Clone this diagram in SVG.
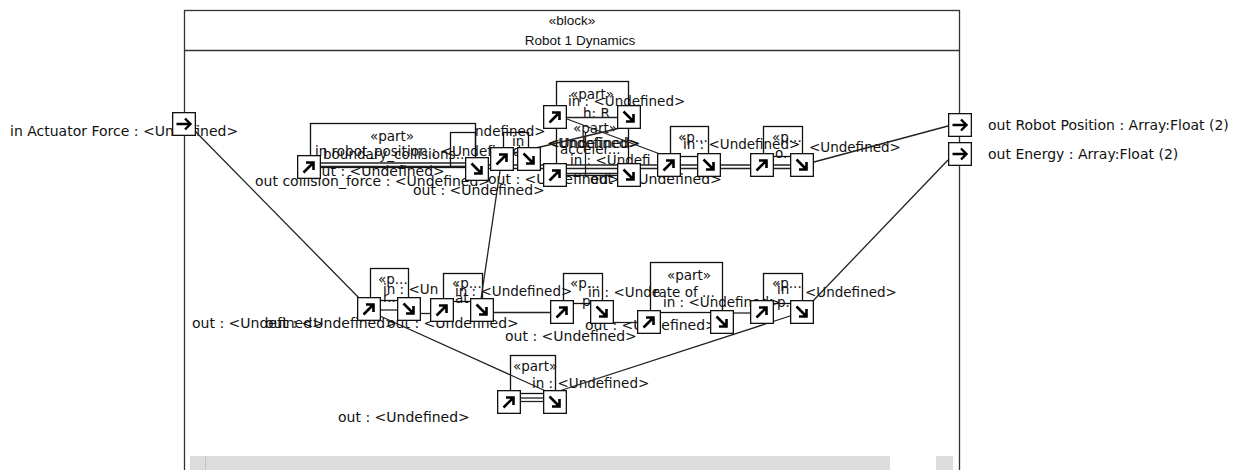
<svg xmlns="http://www.w3.org/2000/svg" xmlns:xlink="http://www.w3.org/1999/xlink" width="1244" height="470" viewBox="0 0 1244 470">
<style>
.lbl{font-family:"DejaVu Sans",sans-serif;font-size:14px;fill:#111}
.ext{font-family:"DejaVu Sans",sans-serif;font-size:14px;fill:#111}
.nm{font-family:"DejaVu Sans",sans-serif;font-size:13.5px;fill:#111}
.hdr{font-family:"Liberation Sans",sans-serif;font-size:13.5px;fill:#111;text-anchor:middle}
.part{fill:none;stroke:#111;stroke-width:1.3}
.frame{fill:#fff;stroke:#333;stroke-width:1.3}
.conn line{stroke:#222;stroke-width:1.3}
</style>
<defs>
<symbol id="ne" viewBox="0 0 24 24"><rect x="0.65" y="0.65" width="22.7" height="22.7" fill="#fff" stroke="#111" stroke-width="1.3"/><path d="M6.5 17.5L16.5 7.5M9 7.5H16.5V15" fill="none" stroke="#000" stroke-width="2.6"/></symbol>
<symbol id="se" viewBox="0 0 24 24"><rect x="0.65" y="0.65" width="22.7" height="22.7" fill="#fff" stroke="#111" stroke-width="1.3"/><path d="M6.5 6.5L16.5 16.5M16.5 9V16.5H9" fill="none" stroke="#000" stroke-width="2.6"/></symbol>
<symbol id="ea" viewBox="0 0 24 24"><rect x="0.65" y="0.65" width="22.7" height="22.7" fill="#fff" stroke="#111" stroke-width="1.3"/><path d="M4.5 12H18.5M13 6.5L18.5 12L13 17.5" fill="none" stroke="#000" stroke-width="2.4"/></symbol>
</defs>
<rect width="1244" height="470" fill="#fff"/>
<g id="block-robot1-dynamics">
<rect class="frame" x="184.5" y="10.5" width="775" height="470"/>
<line x1="184.5" y1="50.5" x2="959.5" y2="50.5" stroke="#333" stroke-width="1.3"/>
<text class="hdr" x="572" y="25">«block»</text>
<text class="hdr" x="580" y="45">Robot 1 Dynamics</text>
<rect x="190" y="456" width="700" height="14" fill="#dcdcdc"/>
<line x1="205.5" y1="456" x2="205.5" y2="470" stroke="#c4c4c4" stroke-width="1"/>
<rect x="936" y="456" width="17" height="14" fill="#dcdcdc"/>
</g>
<g id="ext-labels">
<text class="ext" x="10" y="136">in Actuator Force : &lt;Undefined&gt;</text>
<text class="ext" x="988" y="130">out Robot Position : Array:Float (2)</text>
<text class="ext" x="988" y="159">out Energy : Array:Float (2)</text>
</g>
<g id="part-boundary-collisions">
<rect class="part" x="310.5" y="123.5" width="165" height="44"/>
<text class="nm" x="392" y="141" text-anchor="middle">«part»</text>
<text class="nm" x="315" y="156">in robot_position : &lt;Undefined&gt;</text>
<text class="nm" x="323" y="159">boundary_collisions...</text>
<text class="lbl" x="313" y="176">out : &lt;Undefined&gt;</text>
<text class="lbl" x="255" y="186">out collision_force : &lt;Undefined&gt;</text>
<text class="lbl" x="413" y="195">out : &lt;Undefined&gt;</text>
</g>
<g id="part-p2">
<rect class="part" x="450.5" y="132.5" width="25" height="34"/>
<text class="nm" x="475" y="136">ndefined&gt;</text>
</g>
<g id="part-p3">
<rect class="part" x="503.5" y="132.5" width="25" height="20"/>
<text class="nm" x="512" y="146">in</text>
<text class="lbl" x="488" y="184">out : &lt;Undefined&gt;</text>
<text class="lbl" x="590" y="184">out : &lt;Undefined&gt;</text>
</g>
<g id="part-h">
<rect class="part" x="556.5" y="81.5" width="72" height="94"/>
<text class="nm" x="592" y="99" text-anchor="middle">«part»</text>
<text class="nm" x="568" y="106">in : &lt;Undefined&gt;</text>
<text class="nm" x="583" y="118">h: R</text>
</g>
<g id="part-acceler">
<text class="nm" x="595" y="133" text-anchor="middle">«part»</text>
<text class="nm" x="547" y="148">&lt;Undefined&gt;</text>
<text class="nm" x="548.5" y="148">&lt;Undefined&gt;</text>
<text class="nm" x="560" y="154">acceler...</text>
<text class="nm" x="570" y="165">in : &lt;Undefi</text>
</g>
<g id="part-p6">
<rect class="part" x="670.5" y="126.5" width="38" height="30"/>
<text class="nm" x="678" y="142">«p...</text>
<text class="nm" x="683" y="149">in : &lt;Undefined&gt;</text>
</g>
<g id="part-p7">
<rect class="part" x="763.5" y="126.5" width="39" height="30"/>
<text class="nm" x="772" y="142">«p...</text>
<text class="nm" x="775" y="158">o.</text>
<text class="nm" x="809" y="152">&lt;Undefined&gt;</text>
</g>
<g id="part-b1">
<rect class="part" x="370.5" y="268.5" width="38" height="32"/>
<text class="nm" x="378" y="284">«p...</text>
<text class="nm" x="383" y="294">in : &lt;Un</text>
<text class="nm" x="383" y="302">r...</text>
</g>
<g id="part-b2">
<rect class="part" x="443.5" y="273.5" width="39" height="28"/>
<text class="nm" x="452" y="288">«p...</text>
<text class="nm" x="455" y="296">in : &lt;Undefined&gt;</text>
<text class="nm" x="455" y="303">at</text>
</g>
<g id="part-b3">
<rect class="part" x="563.5" y="273.5" width="39" height="30"/>
<text class="nm" x="570" y="288">«p...</text>
<text class="nm" x="588" y="297">in : &lt;Unde</text>
<text class="nm" x="582" y="306">p.</text>
</g>
<g id="part-rate">
<rect class="part" x="650.5" y="262.5" width="72" height="50"/>
<text class="nm" x="689" y="280" text-anchor="middle">«part»</text>
<text class="nm" x="653" y="297">rate of ...</text>
<text class="nm" x="663" y="307">in : &lt;Undefined&gt;</text>
</g>
<g id="part-b5">
<rect class="part" x="763.5" y="273.5" width="39" height="30"/>
<text class="nm" x="772" y="288">«p...</text>
<text class="nm" x="777" y="294">in</text>
<text class="nm" x="777" y="307">p.</text>
<text class="nm" x="805" y="297">&lt;Undefined&gt;</text>
</g>
<g id="part-b6">
<rect class="part" x="510.5" y="355.5" width="45" height="38"/>
<text class="nm" x="513" y="371">«part»</text>
<text class="nm" x="532" y="388">in : &lt;Undefined&gt;</text>
</g>
<g id="bottom-labels">
<text class="lbl" x="192" y="328">out : &lt;Undefined&gt;</text>
<text class="lbl" x="265" y="328">out : &lt;Undefined&gt;</text>
<text class="lbl" x="387" y="328">out : &lt;Undefined&gt;</text>
<text class="lbl" x="505" y="341">out : &lt;Undefined&gt;</text>
<text class="lbl" x="585" y="330">out : &lt;Undefined&gt;</text>
<text class="lbl" x="338" y="422">out : &lt;Undefined&gt;</text>
</g>
<g id="connectors" class="conn">
<line x1="192" y1="128" x2="362" y2="301"/>
<line x1="380" y1="316" x2="548" y2="392"/>
<line x1="948" y1="160" x2="812" y2="302"/>
<line x1="790" y1="316" x2="556" y2="392"/>
<line x1="814" y1="162" x2="948" y2="126"/>
<line x1="500" y1="171" x2="481" y2="299"/>
<line x1="321" y1="163" x2="466" y2="163"/>
<line x1="321" y1="166.5" x2="466" y2="166.5"/>
<line x1="488" y1="165" x2="790" y2="165"/>
<line x1="488" y1="168.5" x2="790" y2="168.5"/>
<line x1="567" y1="117.5" x2="618" y2="117.5"/>
<line x1="567" y1="173.5" x2="618" y2="173.5"/>
<line x1="567" y1="119" x2="660" y2="154"/>
<line x1="515" y1="153" x2="620" y2="128"/>
<line x1="585.5" y1="132" x2="585.5" y2="175"/>
<line x1="381" y1="310" x2="397" y2="310"/>
<line x1="421" y1="313.5" x2="431" y2="313.5"/>
<line x1="494" y1="312.5" x2="551" y2="312.5"/>
<line x1="614" y1="322.5" x2="638" y2="322.5"/>
<line x1="734" y1="313" x2="751" y2="313"/>
<line x1="521" y1="398" x2="544" y2="398"/>
<line x1="521" y1="401.5" x2="544" y2="401.5"/>
</g>
<g id="ports">
<use href="#ea" x="172" y="112" width="24" height="24"/>
<use href="#ea" x="948" y="113" width="24" height="24"/>
<use href="#ea" x="948" y="142" width="24" height="24"/>
<use href="#ne" x="297" y="155" width="24" height="24"/>
<use href="#se" x="465" y="157" width="24" height="24"/>
<use href="#ne" x="490" y="147" width="24" height="24"/>
<use href="#se" x="517" y="147" width="24" height="24"/>
<use href="#ne" x="543" y="105" width="24" height="24"/>
<use href="#se" x="617" y="105" width="24" height="24"/>
<use href="#ne" x="543" y="163" width="24" height="24"/>
<use href="#se" x="617" y="163" width="24" height="24"/>
<use href="#ne" x="657" y="153" width="24" height="24"/>
<use href="#se" x="697" y="153" width="24" height="24"/>
<use href="#ne" x="750" y="153" width="24" height="24"/>
<use href="#se" x="790" y="153" width="24" height="24"/>
<use href="#ne" x="357" y="297" width="24" height="24"/>
<use href="#se" x="397" y="297" width="24" height="24"/>
<use href="#ne" x="430" y="298" width="24" height="24"/>
<use href="#se" x="470" y="298" width="24" height="24"/>
<use href="#ne" x="550" y="300" width="24" height="24"/>
<use href="#se" x="590" y="300" width="24" height="24"/>
<use href="#ne" x="637" y="310" width="24" height="24"/>
<use href="#se" x="710" y="310" width="24" height="24"/>
<use href="#ne" x="750" y="300" width="24" height="24"/>
<use href="#se" x="790" y="300" width="24" height="24"/>
<use href="#ne" x="497" y="390" width="24" height="24"/>
<use href="#se" x="543" y="390" width="24" height="24"/>
</g>
</svg>
